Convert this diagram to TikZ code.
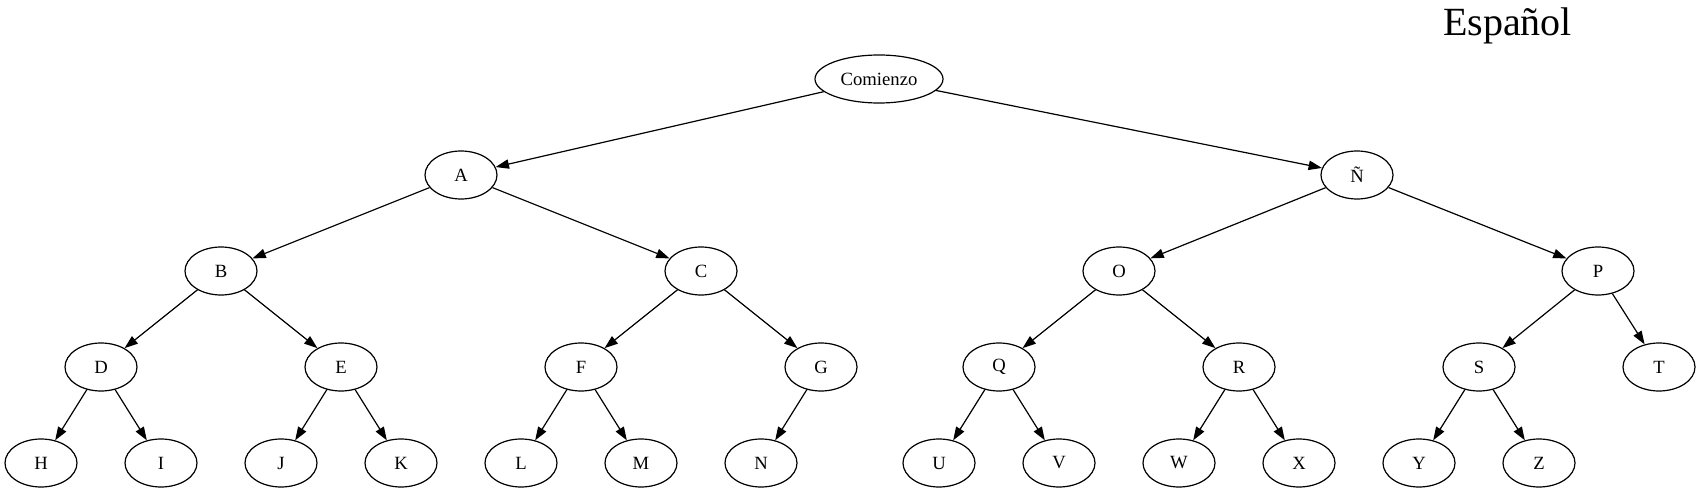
\documentclass[tikz,border=0pt]{standalone}
\usepackage{fontspec}
\setmainfont{Liberation Serif}
\usetikzlibrary{shapes.geometric,arrows.meta}
\begin{document}
\begin{tikzpicture}[x=0.75pt,y=-0.75pt,
  nd/.style={draw,ellipse,line width=0.9pt,minimum width=54pt,minimum height=36pt,inner sep=0pt,font=\fontsize{14}{16}\selectfont},
  wide/.style={minimum width=96pt},
  ed/.style={line width=0.9pt,-{Triangle[length=10pt,width=7pt]}}]
\useasboundingbox (0,0) rectangle (1700,492);
\node[anchor=base,font=\fontsize{30}{34}\selectfont] (title) at (1507.5,36) {Español};
\node[nd,wide] (com) at (879,79) {Comienzo};
\node[nd] (A) at (461,175) {A};
\node[nd] (NN) at (1357,175) {Ñ};
\node[nd] (B) at (221,271) {B};
\node[nd] (C) at (701,271) {C};
\node[nd] (O) at (1119,271) {O};
\node[nd] (P) at (1598,271) {P};
\node[nd] (D) at (101,367) {D};
\node[nd] (E) at (341,367) {E};
\node[nd] (F) at (581,367) {F};
\node[nd] (G) at (821,367) {G};
\node[nd] (Q) at (999,367) {Q};
\node[nd] (R) at (1239,367) {R};
\node[nd] (S) at (1479,367) {S};
\node[nd] (T) at (1659,367) {T};
\node[nd] (H) at (41,463) {H};
\node[nd] (I) at (161,463) {I};
\node[nd] (J) at (281,463) {J};
\node[nd] (K) at (401,463) {K};
\node[nd] (L) at (521,463) {L};
\node[nd] (M) at (641,463) {M};
\node[nd] (N) at (761,463) {N};
\node[nd] (U) at (939,463) {U};
\node[nd] (V) at (1059,463) {V};
\node[nd] (W) at (1179,463) {W};
\node[nd] (X) at (1299,463) {X};
\node[nd] (Y) at (1419,463) {Y};
\node[nd] (Z) at (1539,463) {Z};
\foreach \a/\b in {com/A,com/NN,A/B,A/C,NN/O,NN/P,B/D,B/E,C/F,C/G,O/Q,O/R,P/S,P/T,D/H,D/I,E/J,E/K,F/L,F/M,G/N,Q/U,Q/V,R/W,R/X,S/Y,S/Z}
  \draw[ed] (\a) -- (\b);
\end{tikzpicture}
\end{document}
